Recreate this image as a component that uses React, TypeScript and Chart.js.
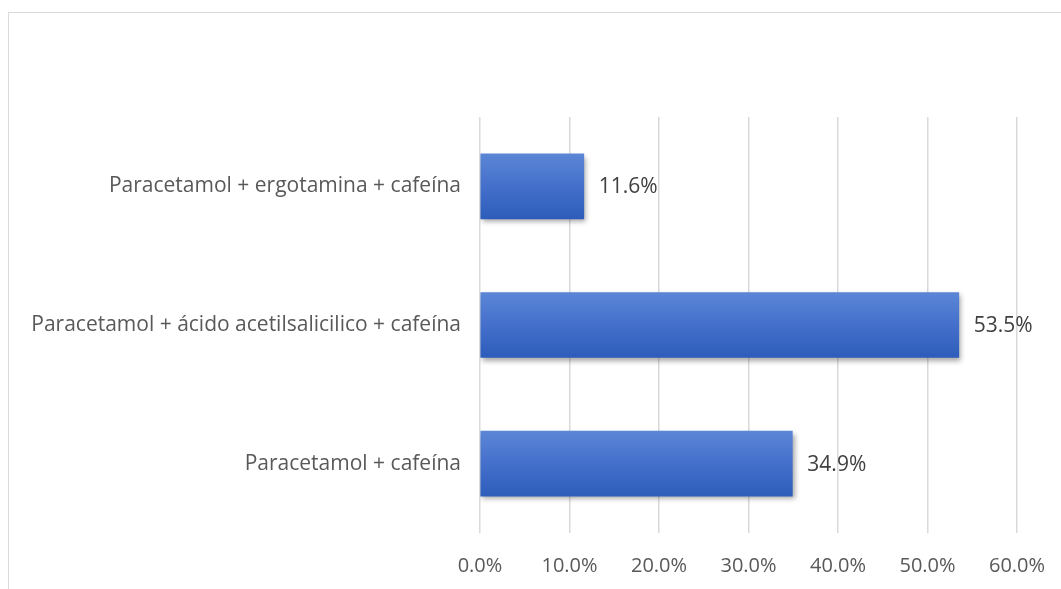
import React, { useEffect, useRef } from "react";
import { Chart, registerables } from "chart.js";

Chart.register(...registerables);

const categories = [
  "Paracetamol + ergotamina + cafeína",
  "Paracetamol + ácido acetilsalicilico + cafeína",
  "Paracetamol + cafeína",
];
const shares = [11.6, 53.5, 34.9];
const xTicks = [0, 10, 20, 30, 40, 50, 60];

const FONT = "'Open Sans', Lato, sans-serif";
const LABEL_SIZE = 21;
const TICK_SIZE = 20;
const BAR_THICKNESS = 65;

// soft drop shadow under the bars only
const barShadow = {
  id: "barShadow",
  beforeDatasetsDraw(chart: any) {
    const ctx = chart.ctx;
    ctx.save();
    ctx.shadowColor = "rgba(0,0,0,0.35)";
    ctx.shadowBlur = 5;
    ctx.shadowOffsetX = 2;
    ctx.shadowOffsetY = 3;
  },
  afterDatasetsDraw(chart: any) {
    chart.ctx.restore();
  },
};

// value labels just past the end of each bar
const valueLabels = {
  id: "valueLabels",
  afterDraw(chart: any) {
    const ctx = chart.ctx;
    const meta = chart.getDatasetMeta(0);
    ctx.save();
    ctx.font = `${LABEL_SIZE}px ${FONT}`;
    ctx.fillStyle = "#404040";
    ctx.textAlign = "left";
    ctx.textBaseline = "middle";
    meta.data.forEach((bar: any, i: number) => {
      ctx.fillText(`${shares[i].toFixed(1)}%`, bar.x + 15, bar.y + 1);
    });
    ctx.restore();
  },
};

export default function App() {
  const canvasRef = useRef<HTMLCanvasElement | null>(null);

  useEffect(() => {
    if (!canvasRef.current) return;
    const chart = new Chart(canvasRef.current, {
      type: "bar",
      data: {
        labels: categories,
        datasets: [
          {
            data: shares,
            barThickness: BAR_THICKNESS,
            backgroundColor: (context: any) => {
              const c = context.chart;
              const y = c.scales && c.scales.y;
              if (!y || context.dataIndex === undefined) return "#4472c4";
              const yc = y.getPixelForValue(context.dataIndex);
              if (!Number.isFinite(yc)) return "#4472c4";
              const g = c.ctx.createLinearGradient(0, yc - BAR_THICKNESS / 2, 0, yc + BAR_THICKNESS / 2);
              g.addColorStop(0, "#5b86d6");
              g.addColorStop(0.5, "#4470cb");
              g.addColorStop(1, "#2d5cba");
              return g;
            },
            borderWidth: 0,
          },
        ],
      },
      options: {
        indexAxis: "y",
        animation: false,
        responsive: false,
        maintainAspectRatio: false,
        layout: { padding: { top: 117, right: 44, left: 0, bottom: 0 } },
        plugins: {
          legend: { display: false },
          tooltip: { enabled: false },
        },
        scales: {
          x: {
            min: 0,
            max: 60,
            afterBuildTicks: (scale: any) => {
              scale.ticks = xTicks.map((v) => ({ value: v }));
            },
            afterFit: (scale: any) => {
              scale.height = 56;
              scale.paddingLeft = 0;
              scale.paddingRight = 0;
            },
            grid: {
              color: "#d9d9d9",
              lineWidth: 1.5,
              drawTicks: false,
            },
            border: { display: false },
            ticks: {
              padding: 21,
              color: "#595959",
              font: { family: FONT, size: TICK_SIZE },
              callback: (v: any) => `${Number(v).toFixed(1)}%`,
            },
          },
          y: {
            afterFit: (scale: any) => {
              scale.width = 480;
              scale.paddingTop = 0;
              scale.paddingBottom = 0;
            },
            grid: { display: false, drawTicks: false },
            border: { display: false },
            ticks: {
              padding: 19,
              color: "#595959",
              font: { family: FONT, size: LABEL_SIZE },
            },
          },
        },
      },
      plugins: [barShadow, valueLabels],
    } as any);
    return () => chart.destroy();
  }, []);

  return (
    <div style={{ position: "fixed", left: 0, top: 0, width: 1061, height: 589, background: "#fff", overflow: "hidden" }}>
      <div
        style={{
          position: "absolute",
          left: 8,
          top: 12,
          width: 1100,
          height: 640,
          borderTop: "1.5px solid #d9d9d9",
          borderLeft: "1.5px solid #d9d9d9",
        }}
      />
      <canvas ref={canvasRef} width={1061} height={589} style={{ position: "absolute", left: 0, top: 0 }} />
    </div>
  );
}
